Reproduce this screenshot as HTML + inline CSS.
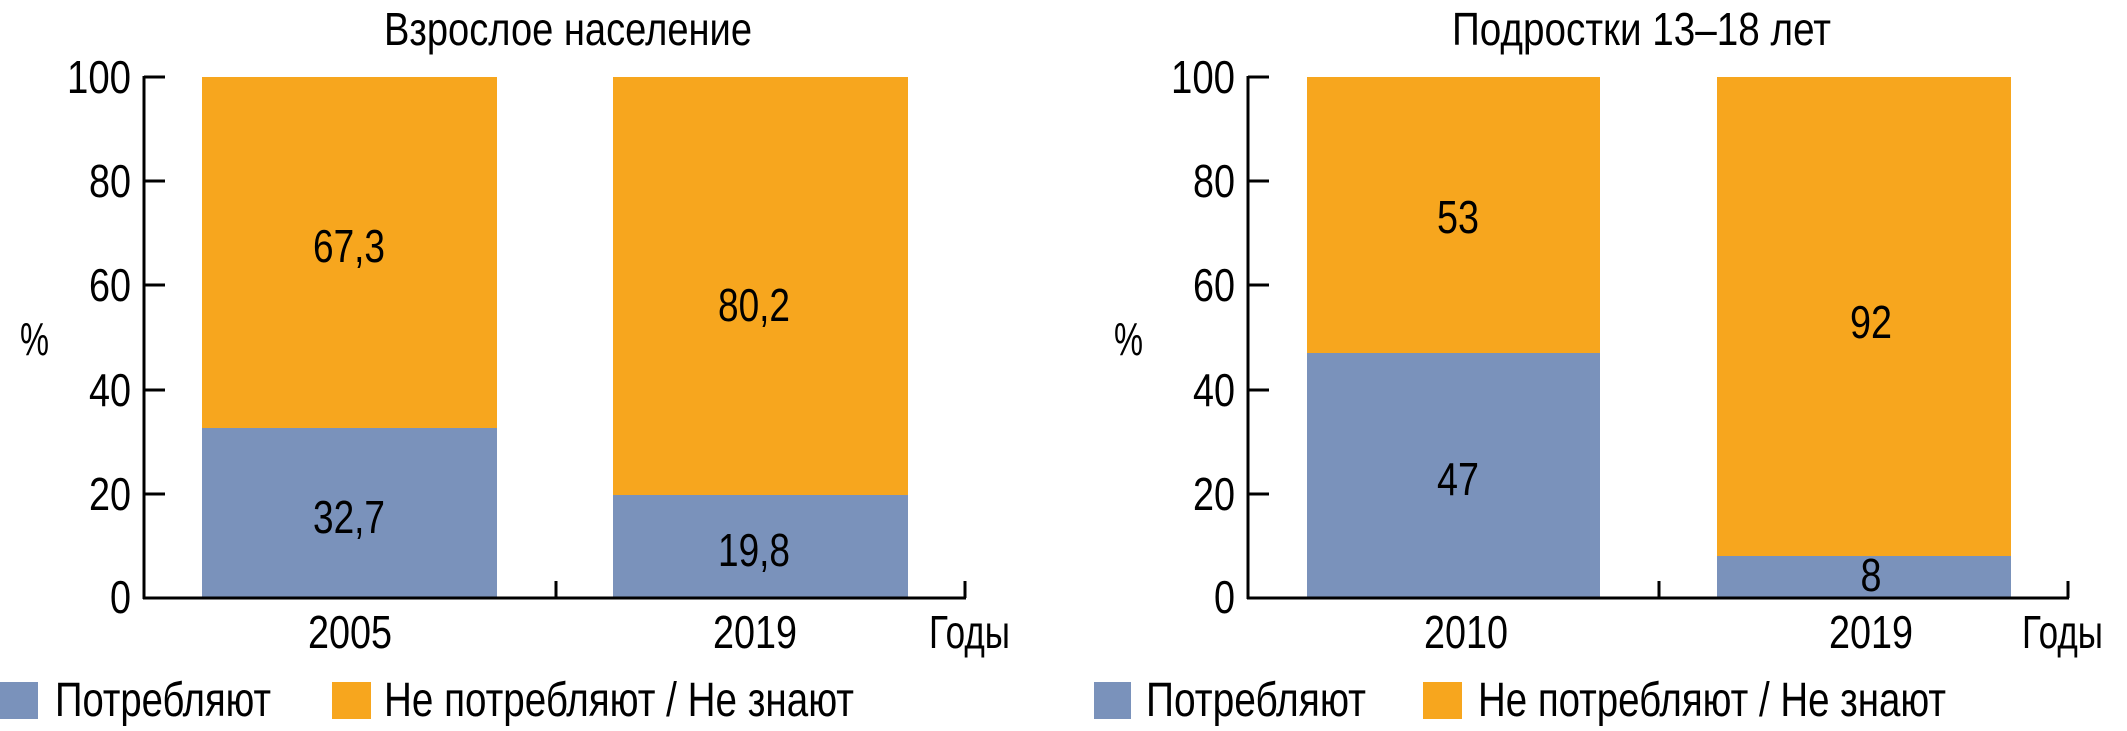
<!DOCTYPE html>
<html><head><meta charset="utf-8"><style>
html,body{margin:0;padding:0;background:#fff}
svg{display:block}
text{font-family:"Liberation Sans Narrow","Liberation Sans",sans-serif;fill:#000}
</style></head><body>
<svg width="2127" height="731" viewBox="0 0 2127 731" xmlns="http://www.w3.org/2000/svg">
<!-- LEFT CHART -->
<g>
<text x="384" y="45" font-size="46" textLength="368" lengthAdjust="spacingAndGlyphs">Взрослое население</text>
<rect x="202" y="77" width="295" height="351" fill="#F7A61E"/>
<rect x="202" y="428" width="295" height="170" fill="#7A92BB"/>
<rect x="613" y="77" width="295" height="418" fill="#F7A61E"/>
<rect x="613" y="495" width="295" height="103" fill="#7A92BB"/>
<g stroke="#000" stroke-width="3" fill="none">
<line x1="144" y1="76" x2="144" y2="599"/>
<line x1="143" y1="598" x2="966" y2="598"/>
<line x1="556" y1="598" x2="556" y2="581"/>
<line x1="965" y1="598" x2="965" y2="581"/>
<line x1="144" y1="77" x2="165" y2="77"/>
<line x1="144" y1="181" x2="165" y2="181"/>
<line x1="144" y1="285" x2="165" y2="285"/>
<line x1="144" y1="390" x2="165" y2="390"/>
<line x1="144" y1="494" x2="165" y2="494"/>
</g>
<g font-size="46" text-anchor="end" lengthAdjust="spacingAndGlyphs">
<text x="131" y="93" textLength="64" lengthAdjust="spacingAndGlyphs">100</text>
<text x="131" y="197" textLength="42" lengthAdjust="spacingAndGlyphs">80</text>
<text x="131" y="301" textLength="42" lengthAdjust="spacingAndGlyphs">60</text>
<text x="131" y="406" textLength="42" lengthAdjust="spacingAndGlyphs">40</text>
<text x="131" y="510" textLength="42" lengthAdjust="spacingAndGlyphs">20</text>
<text x="131" y="613" textLength="21" lengthAdjust="spacingAndGlyphs">0</text>
</g>
<text x="20" y="355" font-size="46" textLength="29" lengthAdjust="spacingAndGlyphs">%</text>
<g font-size="46" text-anchor="middle">
<text x="349" y="262" textLength="72" lengthAdjust="spacingAndGlyphs">67,3</text>
<text x="349" y="533" textLength="72" lengthAdjust="spacingAndGlyphs">32,7</text>
<text x="754" y="321" textLength="72" lengthAdjust="spacingAndGlyphs">80,2</text>
<text x="754" y="566" textLength="72" lengthAdjust="spacingAndGlyphs">19,8</text>
<text x="350" y="648" textLength="84" lengthAdjust="spacingAndGlyphs">2005</text>
<text x="755" y="648" textLength="84" lengthAdjust="spacingAndGlyphs">2019</text>
</g>
<text x="929" y="648" font-size="46" textLength="81" lengthAdjust="spacingAndGlyphs">Годы</text>
<rect x="0" y="682" width="38" height="37" fill="#7A92BB"/>
<text x="55" y="716" font-size="48" textLength="216" lengthAdjust="spacingAndGlyphs">Потребляют</text>
<rect x="332" y="682" width="39" height="37" fill="#F7A61E"/>
<text x="384" y="716" font-size="48" textLength="470" lengthAdjust="spacingAndGlyphs">Не потребляют / Не знают</text>
</g>
<!-- RIGHT CHART -->
<g>
<text x="1452" y="45" font-size="46" textLength="379" lengthAdjust="spacingAndGlyphs">Подростки 13–18 лет</text>
<rect x="1307" y="77" width="293" height="276" fill="#F7A61E"/>
<rect x="1307" y="353" width="293" height="245" fill="#7A92BB"/>
<rect x="1717" y="77" width="294" height="479" fill="#F7A61E"/>
<rect x="1717" y="556" width="294" height="42" fill="#7A92BB"/>
<g stroke="#000" stroke-width="3" fill="none">
<line x1="1248" y1="76" x2="1248" y2="599"/>
<line x1="1247" y1="598" x2="2069" y2="598"/>
<line x1="1659" y1="598" x2="1659" y2="581"/>
<line x1="2068" y1="598" x2="2068" y2="581"/>
<line x1="1248" y1="77" x2="1269" y2="77"/>
<line x1="1248" y1="181" x2="1269" y2="181"/>
<line x1="1248" y1="285" x2="1269" y2="285"/>
<line x1="1248" y1="390" x2="1269" y2="390"/>
<line x1="1248" y1="494" x2="1269" y2="494"/>
</g>
<g font-size="46" text-anchor="end">
<text x="1235" y="93" textLength="64" lengthAdjust="spacingAndGlyphs">100</text>
<text x="1235" y="197" textLength="42" lengthAdjust="spacingAndGlyphs">80</text>
<text x="1235" y="301" textLength="42" lengthAdjust="spacingAndGlyphs">60</text>
<text x="1235" y="406" textLength="42" lengthAdjust="spacingAndGlyphs">40</text>
<text x="1235" y="510" textLength="42" lengthAdjust="spacingAndGlyphs">20</text>
<text x="1235" y="613" textLength="21" lengthAdjust="spacingAndGlyphs">0</text>
</g>
<text x="1114" y="355" font-size="46" textLength="29" lengthAdjust="spacingAndGlyphs">%</text>
<g font-size="46" text-anchor="middle">
<text x="1458" y="233" textLength="42" lengthAdjust="spacingAndGlyphs">53</text>
<text x="1458" y="495" textLength="42" lengthAdjust="spacingAndGlyphs">47</text>
<text x="1871" y="338" textLength="42" lengthAdjust="spacingAndGlyphs">92</text>
<text x="1871" y="591" textLength="21" lengthAdjust="spacingAndGlyphs">8</text>
<text x="1466" y="648" textLength="84" lengthAdjust="spacingAndGlyphs">2010</text>
<text x="1871" y="648" textLength="84" lengthAdjust="spacingAndGlyphs">2019</text>
</g>
<text x="2022" y="648" font-size="46" textLength="81" lengthAdjust="spacingAndGlyphs">Годы</text>
<rect x="1094" y="682" width="37" height="37" fill="#7A92BB"/>
<text x="1146" y="716" font-size="48" textLength="220" lengthAdjust="spacingAndGlyphs">Потребляют</text>
<rect x="1423" y="682" width="39" height="37" fill="#F7A61E"/>
<text x="1478" y="716" font-size="48" textLength="468" lengthAdjust="spacingAndGlyphs">Не потребляют / Не знают</text>
</g>
</svg>
</body></html>
